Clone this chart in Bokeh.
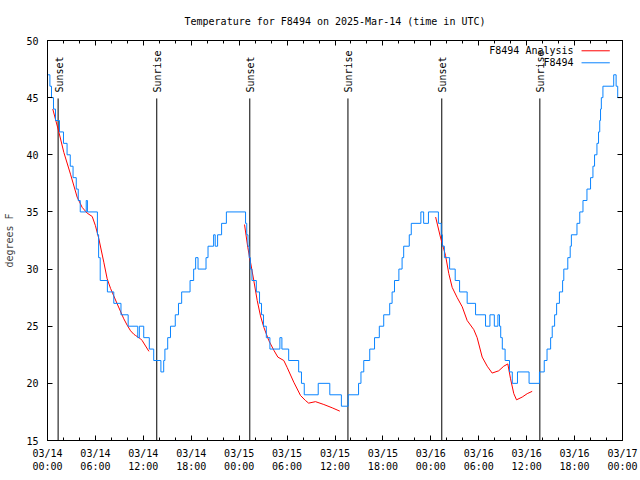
import math
from bokeh.plotting import figure
from bokeh.models import FixedTicker, LinearAxis, Range1d, Label, Arrow
from bokeh.core.properties import value
from bokeh.embed import file_html
from bokeh.resources import INLINE

FONT = "DejaVu Sans Mono"

# ---- data: hours since 2025-03-14 00:00 UTC ----
# F8494 observations (step change points)
obs_hours = [0.0, 0.3, 0.5, 0.75, 1.0, 1.5, 2.0, 2.45, 2.85, 3.2, 3.6, 3.85, 4.1, 4.85, 5.0,
             6.25, 6.4, 6.6, 7.5, 8.3, 9.2, 10.1, 11.3, 11.5, 12.05, 12.75, 13.3, 14.2, 14.55,
             14.7, 15.05, 15.4, 16.0, 16.4, 16.8, 17.85, 18.3, 18.55, 18.85, 19.85, 20.1, 20.8,
             21.0, 21.3, 21.8, 22.4, 24.8, 24.95, 25.1, 25.25, 25.4, 25.6, 26.15, 26.55, 26.8,
             27.05, 27.4, 27.85, 29.1, 29.35, 30.2, 31.45, 31.8, 32.15, 33.9, 35.35, 36.8, 37.65,
             38.95, 39.25, 39.6, 40.35, 40.95, 41.55, 42.1, 42.85, 43.15, 43.45, 44.0, 44.4, 44.6,
             45.3, 45.55, 46.75, 47.1, 47.7, 48.95, 49.3, 49.45, 49.7, 50.35, 51.05, 51.6, 52.55,
             53.6, 54.85, 55.4, 55.95, 56.4, 56.6, 56.75, 56.95, 57.3, 57.85, 58.2, 58.85, 60.3,
             61.6, 62.2, 62.55, 63.0, 63.2, 63.5, 63.75, 64.1, 64.5, 64.65, 65.15, 65.45, 65.6,
             66.3, 66.65, 67.05, 67.55, 68.0, 68.3, 68.5, 68.8, 69.0, 69.15, 69.25, 69.35, 69.55,
             70.9, 71.2, 71.4, 71.85]
obs_temp = [47, 46, 45, 44, 43, 42, 41, 40, 39, 38, 37, 36, 35, 36, 35,
            33, 31, 29, 28, 27, 26, 25, 24, 25, 24, 23, 22, 21, 22,
            23, 24, 25, 26, 27, 28, 29, 30, 31, 30, 31, 32, 33,
            32, 33, 34, 35, 34, 33, 32, 31, 30, 29, 28, 27, 26,
            25, 24, 23, 24, 23, 22, 21, 20, 19, 20, 19, 18, 19,
            20, 21, 22, 23, 24, 25, 26, 27, 28, 29, 30, 31, 32,
            33, 34, 35, 34, 35, 34, 33, 32, 31, 30, 29, 28, 27,
            26, 25, 26, 25, 26, 25, 24, 23, 22, 21, 20, 21, 20,
            21, 22, 23, 24, 25, 26, 27, 28, 29, 30, 31, 32, 33,
            34, 35, 36, 37, 38, 39, 40, 41, 42, 43, 44, 45, 46,
            47, 46, 45, 45]

# F8494 Analysis (night segments)
ana1_hours = [0.66, 1.42, 2.05, 2.88, 3.71, 4.34, 4.96, 5.6, 6.0, 6.43, 7.05, 7.47, 7.9, 8.7,
              9.55, 9.97, 10.4, 10.8, 11.0, 11.65, 11.85, 12.7]
ana1_temp = [44.0, 42.0, 40.2, 38.3, 36.3, 35.4, 34.9, 34.6, 33.8, 32.65, 30.6, 29.15, 28.3, 27.0,
             25.65, 25.1, 24.6, 24.3, 24.2, 23.9, 23.75, 22.8]
ana2_hours = [24.67, 25.08, 25.42, 25.83, 26.26, 26.67, 27.09, 27.71, 28.34, 28.84, 29.59, 30.0,
              30.84, 31.68, 32.3, 32.7, 33.56, 34.6, 35.65, 36.6]
ana2_temp = [33.9, 31.9, 30.6, 29.0, 27.25, 25.9, 24.9, 23.75, 22.9, 22.3, 22.0, 21.4,
             20.1, 18.94, 18.5, 18.27, 18.4, 18.15, 17.86, 17.57]
ana3_hours = [48.6, 49.2, 49.84, 50.25, 50.67, 51.3, 51.93, 52.55, 53.38, 53.8, 54.43, 55.06,
              55.68, 56.5, 57.13, 57.64, 57.98, 58.39, 58.73, 59.44, 60.07, 60.69]
ana3_temp = [34.55, 32.8, 31.2, 29.6, 28.4, 27.5, 26.7, 25.5, 24.7, 24.0, 22.3, 21.5,
             20.9, 21.1, 21.5, 21.7, 20.4, 19.1, 18.56, 18.8, 19.1, 19.3]

event_hours = [1.33, 13.68, 25.33, 37.62, 49.37, 61.65]
event_names = ["Sunset", "Sunrise", "Sunset", "Sunrise", "Sunset", "Sunrise"]

x_ticks = [0, 6, 12, 18, 24, 30, 36, 42, 48, 54, 60, 66, 72]
x_tick_labels = ["03/14\n00:00", "03/14\n06:00", "03/14\n12:00", "03/14\n18:00",
                 "03/15\n00:00", "03/15\n06:00", "03/15\n12:00", "03/15\n18:00",
                 "03/16\n00:00", "03/16\n06:00", "03/16\n12:00", "03/16\n18:00",
                 "03/17\n00:00"]
x_minor = list(range(0, 73, 2))
y_ticks = [15, 20, 25, 30, 35, 40, 45, 50]

title_text = "Temperature for F8494 on 2025-Mar-14 (time in UTC)"
y_label = "degrees F"
legend_labels = ["F8494 Analysis", "F8494"]

RED = "#ff0000"
BLUE = "#0a84ff"

p = figure(frame_width=575, frame_height=400,
           x_range=Range1d(0, 72), y_range=Range1d(15, 50),
           output_backend="svg", toolbar_location=None,
           min_border_left=47, min_border_right=17,
           min_border_top=40, min_border_bottom=39)
p.background_fill_color = "white"
p.border_fill_color = "white"
p.outline_line_color = "black"
p.grid.visible = False

p.title.text = title_text
p.title.align = "center"
p.title.text_font = FONT
p.title.text_font_size = "10px"
p.title.text_font_style = "normal"
p.title.text_color = "black"
p.title.standoff = 27

xt = FixedTicker(ticks=x_ticks, minor_ticks=x_minor)
yt = FixedTicker(ticks=y_ticks, minor_ticks=[])


def style_axis(ax, labels=True):
    ax.axis_line_color = "black"
    ax.major_tick_line_color = "black"
    ax.minor_tick_line_color = "black"
    ax.major_tick_in = 5
    ax.major_tick_out = 0
    ax.minor_tick_in = 3
    ax.minor_tick_out = 0
    ax.major_label_text_font = FONT
    ax.major_label_text_font_size = "10px" if labels else "0px"
    ax.major_label_text_color = "black"
    ax.axis_label_text_font = FONT
    ax.axis_label_text_font_size = "10px"
    ax.axis_label_text_font_style = "normal"


xa = p.xaxis[0]
xa.ticker = xt
xa.major_label_overrides = {t: lab for t, lab in zip(x_ticks, x_tick_labels)}
style_axis(xa)
xa.major_label_standoff = 7

ya = p.yaxis[0]
ya.ticker = yt
style_axis(ya)
ya.major_label_standoff = 9
ya.axis_label = y_label
ya.axis_label_standoff = 8

top = LinearAxis(ticker=xt)
style_axis(top, labels=False)
top.major_label_overrides = {t: "" for t in x_ticks}
top.major_label_standoff = 0
p.add_layout(top, "above")

right = LinearAxis(ticker=yt)
style_axis(right, labels=False)
right.major_label_overrides = {t: "" for t in y_ticks}
right.major_label_standoff = 0
p.add_layout(right, "right")

# sunrise / sunset markers
p.segment(x0=event_hours, y0=[15] * len(event_hours), x1=event_hours,
          y1=[44.93] * len(event_hours), line_color="black", line_width=1)
p.text(x=event_hours, y=[45.45] * len(event_hours), text=event_names,
       angle=math.pi / 2, text_align="left", text_baseline="middle",
       text_font=value(FONT), text_font_size="10px", text_color="black", x_offset=1)

# data lines
p.line(ana1_hours, ana1_temp, line_color=RED, line_width=1)
p.line(ana2_hours, ana2_temp, line_color=RED, line_width=1)
p.line(ana3_hours, ana3_temp, line_color=RED, line_width=1)
p.step(obs_hours, obs_temp, mode="after", line_color=BLUE, line_width=1)

# legend (text left, sample line right)
LEG_TEXT_X = 65.87
LEG_Y = [49.10, 48.05]
LEG_LINE_X0, LEG_LINE_X1 = 66.87, 70.41
for lab, yy, col in zip(legend_labels, LEG_Y, [RED, BLUE]):
    p.add_layout(Label(x=LEG_TEXT_X, y=yy, text=lab, text_align="right",
                       text_baseline="middle", text_font=FONT, text_font_size="10px",
                       text_color="black"))
    p.add_layout(Arrow(x_start=LEG_LINE_X0, y_start=yy, x_end=LEG_LINE_X1, y_end=yy,
                       end=None, line_color=col, line_width=1))

open("out.html", "w").write(file_html(p, INLINE))
